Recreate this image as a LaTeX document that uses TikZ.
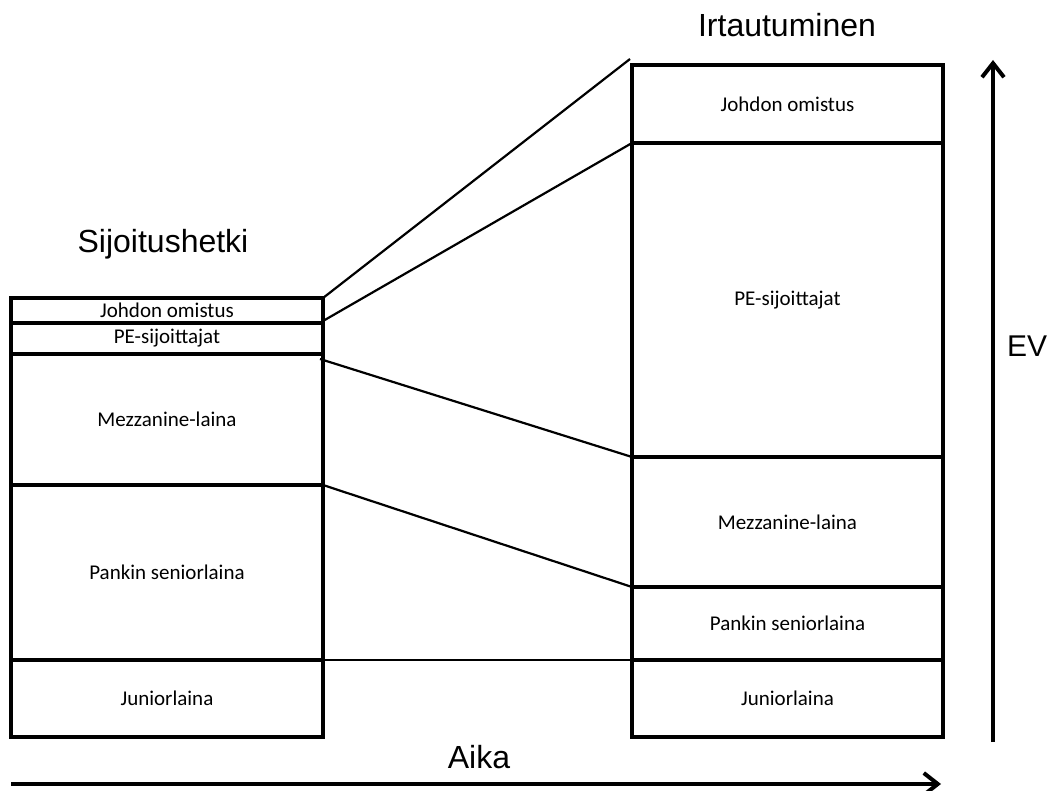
\documentclass[tikz,border=0pt]{standalone}
\usepackage{fontspec}
\setmainfont{Carlito}
\newfontfamily\arialfont{Liberation Sans}
\usetikzlibrary{arrows.meta,calc}

\tikzset{
  layer/.style={draw, line width=3.4pt, outer sep=0pt, inner sep=0pt,
    minimum width=#1, font=\fontsize{21}{24}\selectfont, anchor=center},
  title/.style={font=\arialfont\fontsize{32}{36}\selectfont, inner sep=0pt, anchor=base},
  link/.style={line width=2.2pt},
  axis/.style={line width=3.6pt, -{Straight Barb[length=14pt,width=22pt,line width=4pt]}}
}

\begin{document}
\begin{tikzpicture}[x=1pt,y=-1pt]
\useasboundingbox (0,0) rectangle (1052,791);

% capital structure at entry
\node[layer=312pt, minimum height=25pt]  (lj) at (167,310.5) {Johdon omistus};
\node[layer=312pt, minimum height=31pt]  (lp) at (167,338.5) {PE-sijoittajat};
\node[layer=312pt, minimum height=131pt] (lm) at (167,419.5) {Mezzanine-laina};
\node[layer=312pt, minimum height=175pt] (ls) at (167,572.5) {Pankin seniorlaina};
\node[layer=312pt, minimum height=77pt]  (lu) at (167,698.5) {Juniorlaina};

% capital structure at exit
\node[layer=311pt, minimum height=78pt]  (rj) at (787.5,104) {Johdon omistus};
\node[layer=311pt, minimum height=314pt] (rp) at (787.5,300) {PE-sijoittajat};
\node[layer=311pt, minimum height=130pt] (rm) at (787.5,522) {Mezzanine-laina};
\node[layer=311pt, minimum height=73pt]  (rs) at (787.5,623.5) {Pankin seniorlaina};
\node[layer=311pt, minimum height=77pt]  (ru) at (787.5,698.5) {Juniorlaina};

% titles
\node[title] (t1) at (163,253) {Sijoitushetki};
\node[title] (t2) at (787,37) {Irtautuminen};
\node[title] (t3) at (479,768) {Aika};
\node[title, font=\arialfont\fontsize{30}{34}\selectfont] (t4) at (1027,357) {EV};

% connecting lines between the two structures
\coordinate (j1) at ($(rj.north west)+(-2,-6)$);
\draw[link] (lj.north east) -- (j1);
\draw[link] ($(lj.south east)+(0,-2)$) -- (rj.south west);
\draw[link] ($(lm.north east)+(-3,5)$) -- (rp.south west);
\draw[link] (lm.south east) -- (rs.north west);
\draw[line width=1.6pt] (ls.south east) -- (rs.south west);

% axes
\coordinate (ev0) at (993,742);
\coordinate (ev1) at (993,60);
\draw[axis] (ev0) -- (ev1);
\coordinate (a0) at (11,784);
\coordinate (a1) at (941,784);
\draw[axis] (a0) -- (a1);
\end{tikzpicture}
\end{document}
